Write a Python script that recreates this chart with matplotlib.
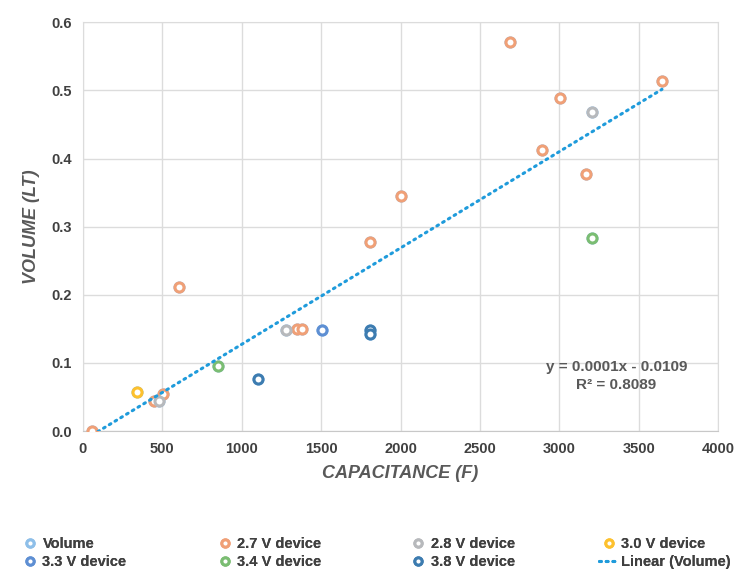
import numpy as np
import matplotlib
matplotlib.use('Agg')
import matplotlib.pyplot as plt
from matplotlib.lines import Line2D

# capacitance (F) and volume (LT) per device voltage
cap_27 = [57, 606, 450, 507, 1350, 1380, 1805, 2000, 2688, 3004, 2890, 3170, 3647]
vol_27 = [0.000, 0.211, 0.044, 0.054, 0.150, 0.150, 0.277, 0.345, 0.571, 0.489, 0.413, 0.378, 0.514]
cap_28 = [480, 1281, 3205]
vol_28 = [0.044, 0.149, 0.469]
cap_30 = [339]
vol_30 = [0.057]
cap_33 = [1508]
vol_33 = [0.149]
cap_34 = [852, 3205]
vol_34 = [0.096, 0.283]
cap_38 = [1102, 1805, 1805]
vol_38 = [0.076, 0.149, 0.143]

series = [
    ('2.7 V device', cap_27, vol_27, '#F0A077'),
    ('2.8 V device', cap_28, vol_28, '#B7B9BC'),
    ('3.0 V device', cap_30, vol_30, '#FDC12E'),
    ('3.3 V device', cap_33, vol_33, '#5E8FD3'),
    ('3.4 V device', cap_34, vol_34, '#7BBD72'),
    ('3.8 V device', cap_38, vol_38, '#3D7CB0'),
]
volume_color = '#8EBFE9'
trend_color = '#1F9BDB'
text_color = '#595959'

plt.rcParams['font.family'] = ['Liberation Sans', 'DejaVu Sans']

def main():
    all_x = np.concatenate([s[1] for s in series])
    all_y = np.concatenate([s[2] for s in series])

    fig = plt.figure(figsize=(7.41, 5.71), dpi=100)
    ax = fig.add_axes([0.112, 0.245, 0.857, 0.716])

    mk = dict(marker='o', linestyle='none', markersize=6.5, markeredgewidth=2.2,
              markerfacecolor='white')
    ax.plot(all_x, all_y, color=volume_color, markeredgecolor=volume_color, zorder=2, **mk)
    handles = {}
    handles['Volume'] = Line2D([], [], color=volume_color, markeredgecolor=volume_color, **mk)
    for name, xs, ys, c in series:
        h, = ax.plot(xs, ys, color=c, markeredgecolor=c, zorder=3, **mk)
        handles[name] = h

    slope, icpt = np.polyfit(all_x, all_y, 1)
    xt = np.array([all_x.min(), all_x.max()])
    tl, = ax.plot(xt, slope * xt + icpt, color=trend_color, linewidth=2.2,
                  linestyle=(0, (0.6, 1.6)), dash_capstyle='round', zorder=4)
    handles['Linear (Volume)'] = tl

    ax.text(3360, 0.094, 'y = 0.0001x - 0.0109', ha='center', va='center',
            fontsize=11, fontweight='bold', color=text_color)
    ax.text(3360, 0.067, 'R² = 0.8089', ha='center', va='center',
            fontsize=11, fontweight='bold', color=text_color)

    ax.set_xlim(0, 4000)
    ax.set_ylim(0, 0.6)
    ax.set_xticks(np.arange(0, 4001, 500))
    ax.set_yticks(np.arange(0, 0.61, 0.1))
    ax.set_yticklabels(['%.1f' % v for v in np.arange(0, 0.61, 0.1)])
    ax.grid(True, color='#DCDCDC', linewidth=1)
    ax.set_axisbelow(True)
    for sp in ax.spines.values():
        sp.set_color('#DCDCDC')
    ax.spines['bottom'].set_color('#C8C8C8')
    ax.tick_params(length=0, labelsize=10.5, labelcolor='#404040', pad=8)
    for lab in ax.get_xticklabels() + ax.get_yticklabels():
        lab.set_fontweight('bold')

    ax.set_xlabel('CAPACITANCE (F)', fontsize=13, fontweight='bold', fontstyle='italic',
                  color=text_color, labelpad=6)
    ax.set_ylabel('VOLUME (LT)', fontsize=13, fontweight='bold', fontstyle='italic',
                  color=text_color, labelpad=8)

    # legend: four columns placed like the reference
    columns = [['Volume', '3.3 V device'], ['2.7 V device', '3.4 V device'],
               ['2.8 V device', '3.8 V device'], ['3.0 V device', 'Linear (Volume)']]
    col_x = [0.016, 0.279, 0.540, 0.797]
    for names, x0 in zip(columns, col_x):
        leg = fig.legend([handles[k] for k in names], names, loc='lower left',
                         bbox_to_anchor=(x0, -0.012), frameon=False, fontsize=10.5,
                         handlelength=1.3, handletextpad=0.2, labelspacing=0.3,
                         markerscale=0.8, borderaxespad=0.2)
        for t in leg.get_texts():
            t.set_color('#404040')
            t.set_fontweight('bold')
        fig.add_artist(leg)

    fig.savefig('out.png', dpi=100)

if __name__ == '__main__':
    main()
